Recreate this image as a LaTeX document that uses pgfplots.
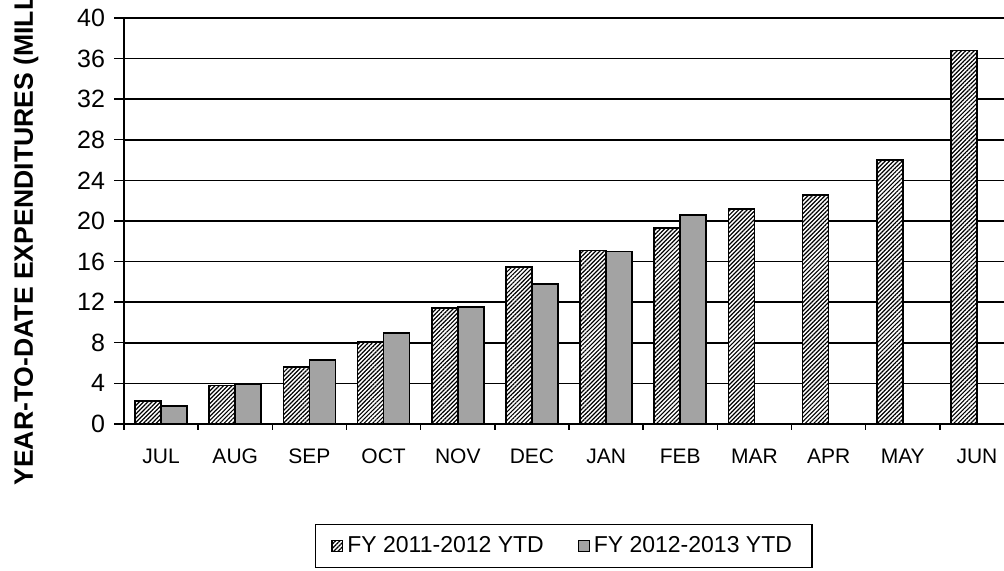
\documentclass[border=0pt]{standalone}
\usepackage{fontspec}
\setmainfont{Liberation Sans}
\usepackage{pgfplots}
\pgfplotsset{compat=1.18}
\usetikzlibrary{patterns.meta}
\definecolor{bargray}{RGB}{163,163,163}
\pgfplotsset{sq legend/.style={legend image code/.code={\draw[##1,line width=0.6pt] (0pt,-2.7pt) rectangle (5.4pt,2.7pt);}}}
\begin{document}
\begin{tikzpicture}
\begin{axis}[
  at={(62pt,73.5pt)}, anchor=south west,
  scale only axis, width=445pt, height=203pt,
  xmin=-0.5, xmax=11.5, ymin=0, ymax=40,
  ybar, bar width=13pt,
  axis x line=bottom, axis y line=left,
  axis line style={-, line width=0.9pt, black},
  ytick={0,4,...,40},
  xtick={0,...,11},
  xticklabels={JUL,AUG,SEP,OCT,NOV,DEC,JAN,FEB,MAR,APR,MAY,JUN},
  minor xtick={-0.5,0.5,...,11.5},
  major x tick style={draw=none},
  minor x tick style={black, line width=0.7pt},
  minor tick length=3pt,
  major tick length=5pt,
  tick align=outside,
  y tick style={black, line width=0.7pt},
  ymajorgrids,
  major grid style={black, line width=0.75pt},
  /pgf/number format/assume math mode=true,
  yticklabel style={font=\fontsize{12.5}{14}\selectfont, xshift=-1pt},
  xticklabel style={font=\fontsize{10.5}{12}\selectfont, yshift=-4pt},
  ylabel={\bfseries YEAR-TO-DATE EXPENDITURES (MILLIONS)},
  every axis y label/.style={at={(rel axis cs:-0.110,0.544)}, rotate=90, anchor=center, font=\fontsize{13.3}{15}\selectfont},
  legend columns=2,
  legend style={at={(0.494,-0.30)}, anchor=center, draw=black, line width=0.6pt,
    font=\fontsize{11.5}{13}\selectfont, inner xsep=8pt, inner ysep=4pt,
    /tikz/every even column/.append style={column sep=15pt}},
]
\addplot[draw=black, line width=0.9pt, fill=white,
  postaction={pattern={Lines[angle=45,distance=1.5pt,line width=0.6pt]}},
  bar shift=-6.5pt, sq legend]
  coordinates {(0,2.3) (1,3.8) (2,5.6) (3,8.1) (4,11.4) (5,15.5) (6,17.1) (7,19.3) (8,21.2) (9,22.6) (10,26.0) (11,36.8)};
\addlegendentry{FY 2011-2012 YTD}
\addplot[draw=black, line width=0.9pt, fill=bargray, bar shift=6.5pt, sq legend]
  coordinates {(0,1.8) (1,3.9) (2,6.3) (3,9.0) (4,11.5) (5,13.8) (6,17.0) (7,20.6)};
\addlegendentry{FY 2012-2013 YTD}
\end{axis}
\pgfresetboundingbox
\useasboundingbox (0,0) rectangle (502pt,285.5pt);
\end{tikzpicture}
\end{document}
